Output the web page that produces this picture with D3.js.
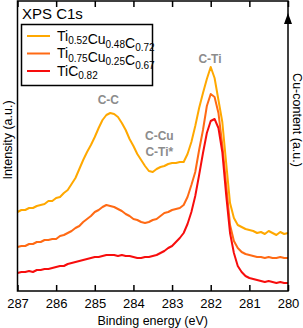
<!DOCTYPE html>
<html>
<head>
<meta charset="utf-8">
<script src="https://cdn.jsdelivr.net/npm/d3@7"></script>
<style>
  body { margin: 0; background: #fff; }
  text { font-family: "Liberation Sans", Arial, Helvetica, sans-serif; }
</style>
</head>
<body>
<div id="container"></div>
<script>
// binding energy (eV) and intensities (a.u.)
var energy = [287.0, 286.9, 286.8, 286.7, 286.6, 286.5, 286.4, 286.3, 286.2, 286.1,
              286.0, 285.9, 285.8, 285.7, 285.6, 285.5, 285.4, 285.3, 285.2, 285.1,
              285.0, 284.9, 284.8, 284.7, 284.6, 284.5, 284.4, 284.3, 284.2, 284.1,
              284.0, 283.9, 283.8, 283.7, 283.6, 283.5, 283.4, 283.3, 283.2, 283.1,
              283.0, 282.9, 282.8, 282.7, 282.6, 282.5, 282.4, 282.3, 282.2, 282.1,
              282.0, 281.9, 281.8, 281.7, 281.6, 281.5, 281.4, 281.3, 281.2, 281.1,
              281.0, 280.9, 280.8, 280.7, 280.6, 280.5, 280.4, 280.3, 280.2, 280.1,
              280.0];

var intCu48 = [79, 81, 81, 83, 83, 85, 86, 87, 90, 90,
               93, 94, 98, 101, 107, 113, 122, 131, 139, 146,
               154, 163, 171, 176, 178, 177, 174, 168, 161, 152,
               145, 137, 131, 125, 120, 119, 122, 124, 125, 127,
               128, 128, 129, 129, 137, 149, 165, 183, 198, 212,
               224, 213, 191, 169, 128, 88, 73, 66, 64, 62,
               61, 60, 58, 59, 57, 60, 58, 56, 59, 57,
               58];

var intCu25 = [44, 45, 45, 47, 47, 49, 49, 51, 51, 52,
               52, 55, 56, 58, 60, 63, 65, 69, 72, 75,
               79, 81, 84, 86, 85, 84, 82, 80, 77, 75,
               72, 71, 69, 68, 69, 71, 72, 75, 78, 79,
               81, 82, 83, 86, 94, 106, 119, 141, 161, 185,
               197, 194, 178, 146, 106, 66, 50, 43, 39, 37,
               36, 35, 34, 34, 33, 34, 33, 33, 34, 33,
               33];

var intTiC = [18, 19, 19, 20, 19, 21, 21, 22, 22, 23,
              24, 25, 25, 27, 28, 29, 30, 31, 32, 33,
              34, 34, 35, 36, 36, 36, 35, 36, 35, 35,
              34, 33, 33, 34, 34, 35, 36, 38, 40, 43,
              45, 49, 53, 58, 67, 79, 95, 116, 138, 158,
              170, 172, 163, 139, 96, 58, 38, 25, 19, 15,
              13, 12, 11, 10, 9, 10, 9, 8, 9, 8,
              8];

var seriesColors = ["#ffa800", "#ff6a14", "#f70d0d"];
// legend labels as [element, subscript] pairs
var legendLabels = [
    [["Ti", "0.52"], ["Cu", "0.48"], ["C", "0.72"]],
    [["Ti", "0.75"], ["Cu", "0.25"], ["C", "0.67"]],
    [["TiC", "0.82"]]
];
var xTicks = [287, 286, 285, 284, 283, 282, 281, 280];

var peaks = [
    {lines: ["C-C"], e: 284.65, y: 104},
    {lines: ["C-Cu", "C-Ti*"], e: 283.33, y: 140},
    {lines: ["C-Ti"], e: 282.02, y: 63}
];

var width = 303, height = 328;
var margin = {top: 1, right: 15, bottom: 37, left: 17.5};

var svg = d3.select("#container")
        .append("svg")
        .attr("width", width)
        .attr("height", height);

var x = d3.scaleLinear()
        .domain([287, 280])
        .range([margin.left, width - margin.right]);
var y = d3.scaleLinear()
        .domain([0, 290])
        .range([height - margin.bottom, margin.top]);

// spectra
var line = d3.line()
        .x((d, i) => x(energy[i]))
        .y(d => y(d));

var allSeries = [intCu48, intCu25, intTiC];
svg.selectAll("path.spec")
    .data(allSeries)
    .enter()
    .append("path")
    .attr("class", "spec")
    .attr("d", line)
    .attr("fill", "none")
    .attr("stroke", (d, i) => seriesColors[i])
    .attr("stroke-width", 2)
    .attr("stroke-linejoin", "round");

// frame
svg.append("rect")
    .attr("x", margin.left)
    .attr("y", margin.top)
    .attr("width", width - margin.left - margin.right)
    .attr("height", height - margin.top - margin.bottom)
    .attr("fill", "none")
    .attr("stroke", "#000")
    .attr("stroke-width", 1.5);

// axes, ticks inward
var xAxis = svg.append("g")
        .attr("transform", "translate(0," + (height - margin.bottom) + ")")
        .call(d3.axisBottom(x).tickValues(xTicks).tickFormat(d3.format("d"))
              .tickSizeInner(-6).tickSizeOuter(0).tickPadding(8));
xAxis.select(".domain").remove();
xAxis.selectAll("text").attr("font-size", 13).attr("fill", "#000")
    .style("font-family", "'Liberation Sans', Arial, sans-serif");
xAxis.selectAll("line").attr("stroke-width", 1.5);

var topAxis = svg.append("g")
        .attr("transform", "translate(0," + margin.top + ")")
        .call(d3.axisTop(x).tickValues(xTicks).tickFormat("")
              .tickSizeInner(-6).tickSizeOuter(0));
topAxis.select(".domain").remove();
topAxis.selectAll("line").attr("stroke-width", 1.5);

// Cu-content arrow on the right frame
var ax = width - margin.right;
svg.append("path")
    .attr("d", "M" + ax + ",13 L" + (ax - 4) + ",24 L" + (ax + 4) + ",24 Z")
    .attr("fill", "#000");

// axis labels
svg.append("text")
    .attr("x", (margin.left + width - margin.right) / 2)
    .attr("y", 325)
    .attr("text-anchor", "middle")
    .attr("font-size", 12.5)
    .text("Binding energy (eV)");

svg.append("text")
    .attr("transform", "translate(12,140) rotate(-90)")
    .attr("text-anchor", "middle")
    .attr("font-size", 12.5)
    .text("Intensity (a.u.)");

svg.append("text")
    .attr("transform", "translate(293,120) rotate(90)")
    .attr("text-anchor", "middle")
    .attr("font-size", 12.5)
    .text("Cu-content (a.u.)");

// title
svg.append("text")
    .attr("x", 22)
    .attr("y", 19)
    .attr("font-size", 15)
    .text("XPS C1s");

// legend
svg.append("rect")
    .attr("x", 21.5)
    .attr("y", 24.5)
    .attr("width", 131)
    .attr("height", 61)
    .attr("fill", "#fff")
    .attr("stroke", "#000")
    .attr("stroke-width", 1.5);

var leg = svg.selectAll("g.leg")
        .data(legendLabels)
        .enter()
        .append("g")
        .attr("class", "leg")
        .attr("transform", (d, i) => "translate(27," + (36 + i * 17.5) + ")");

leg.append("line")
    .attr("x1", 0).attr("x2", 23)
    .attr("stroke", (d, i) => seriesColors[i])
    .attr("stroke-width", 2);

leg.each(function(parts) {
    var t = d3.select(this).append("text")
            .attr("x", 30)
            .attr("y", 4.5)
            .attr("font-size", 14);
    parts.forEach(p => {
        t.append("tspan").attr("dy", 0).text(p[0]);
        t.append("tspan").attr("dy", 3.5).attr("font-size", 10).text(p[1]);
        t.append("tspan").attr("dy", -3.5).text("");
    });
});

// peak annotations
var ann = svg.selectAll("text.peak")
        .data(peaks)
        .enter()
        .append("text")
        .attr("class", "peak")
        .attr("text-anchor", "middle")
        .attr("font-size", 12)
        .attr("font-weight", "bold")
        .attr("fill", "#8c8c8c");
ann.selectAll("tspan")
    .data(d => d.lines.map(l => ({l: l, e: d.e, y: d.y})))
    .enter()
    .append("tspan")
    .attr("x", d => x(d.e))
    .attr("y", (d, i) => d.y + i * 16)
    .text(d => d.l);
</script>
</body>
</html>
